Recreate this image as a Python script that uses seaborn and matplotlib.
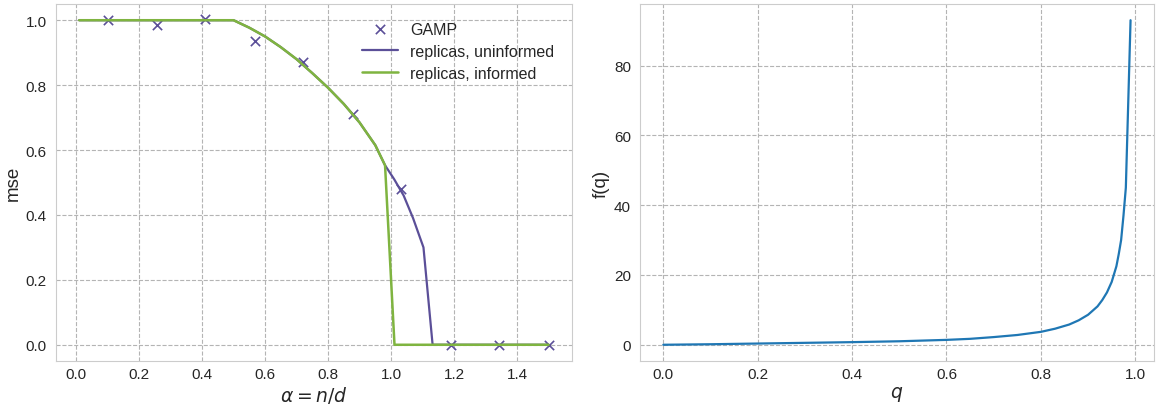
import matplotlib
matplotlib.use("Agg")
import matplotlib.pyplot as plt
import seaborn as sns

# Data: left panel (mse vs alpha)
gamp_alpha = [0.1, 0.256, 0.411, 0.567, 0.722, 0.878, 1.033, 1.189, 1.344, 1.5]
gamp_mse = [1.0, 0.985, 1.003, 0.935, 0.872, 0.712, 0.48, 0.0, 0.0, 0.0]

unif_alpha = [0.01, 0.5, 0.55, 0.6, 0.65, 0.7, 0.75, 0.8, 0.85, 0.9, 0.95, 0.981,
              1.01, 1.04, 1.07, 1.103, 1.132, 1.5]
unif_mse = [1.0, 1.0, 0.977, 0.95, 0.917, 0.88, 0.837, 0.792, 0.742, 0.685, 0.615, 0.553,
            0.51, 0.46, 0.39, 0.30, 0.0, 0.0]

inf_alpha = [0.01, 0.5, 0.55, 0.6, 0.65, 0.7, 0.75, 0.8, 0.85, 0.9, 0.95, 0.981,
             1.011, 1.5]
inf_mse = [1.0, 1.0, 0.977, 0.95, 0.917, 0.88, 0.837, 0.792, 0.742, 0.685, 0.615, 0.553,
           0.0, 0.0]

# Data: right panel f(q)
q_vals = [0.0, 0.1, 0.2, 0.3, 0.4, 0.5, 0.6, 0.65, 0.7, 0.75, 0.8, 0.83, 0.86, 0.88,
          0.9, 0.92, 0.93, 0.94, 0.95, 0.96, 0.965, 0.97, 0.975, 0.98, 0.99]
f_vals = [0.0, 0.15, 0.35, 0.55, 0.75, 1.0, 1.4, 1.7, 2.2, 2.8, 3.7, 4.6, 5.8, 7.0,
          8.6, 11.0, 12.8, 15.0, 18.0, 22.5, 26.0, 30.0, 37.0, 45.0, 93.0]

PURPLE = "#5b4f98"
GREEN = "#7fb440"
BLUE = "#1f77b4"

sns.set_style("whitegrid", rc={
    "grid.linestyle": "--",
    "grid.color": "#b4b4b4",
    "axes.edgecolor": "#cccccc",
    "axes.linewidth": 1.5,
    "text.color": "#262626",
    "xtick.color": "#262626",
    "ytick.color": "#262626",
})
plt.rcParams["font.family"] = ["Liberation Sans", "DejaVu Sans"]
plt.rcParams["mathtext.fontset"] = "dejavusans"

fig = plt.figure(figsize=(11.56, 4.06), dpi=100)
ax1 = fig.add_axes([0.0482, 0.1084, 0.4466, 0.8793])
ax2 = fig.add_axes([0.5536, 0.1084, 0.4446, 0.8793])

sns.scatterplot(x=gamp_alpha, y=gamp_mse, marker="x", color=PURPLE, s=45,
                linewidth=1.2, label="GAMP", ax=ax1)
sns.lineplot(x=unif_alpha, y=unif_mse, sort=False, color=PURPLE, linewidth=1.6,
             label="replicas, uninformed", ax=ax1)
sns.lineplot(x=inf_alpha, y=inf_mse, sort=False, color=GREEN, linewidth=1.8,
             label="replicas, informed", ax=ax1)

ax1.set_xlim(-0.0645, 1.5745)
ax1.set_ylim(-0.05, 1.05)
ax1.set_xticks([0.0, 0.2, 0.4, 0.6, 0.8, 1.0, 1.2, 1.4])
ax1.set_yticks([0.0, 0.2, 0.4, 0.6, 0.8, 1.0])
ax1.set_xlabel(r"$\alpha = n/d$", fontsize=13.5, labelpad=2)
ax1.set_ylabel("mse", fontsize=13.5, labelpad=3)
ax1.tick_params(axis="x", labelsize=11, pad=1)
ax1.tick_params(axis="y", labelsize=11, pad=3)
ax1.legend(loc="upper right", frameon=False, fontsize=11.5, borderaxespad=0.7,
           labelspacing=0.45, handlelength=2.2)

sns.lineplot(x=q_vals, y=f_vals, sort=False, color=BLUE, linewidth=1.6, ax=ax2)
ax2.set_xlim(-0.0495, 1.0395)
ax2.set_ylim(-4.65, 97.65)
ax2.set_xticks([0.0, 0.2, 0.4, 0.6, 0.8, 1.0])
ax2.set_yticks([0, 20, 40, 60, 80])
ax2.set_xlabel(r"$q$", fontsize=13.5, labelpad=2)
ax2.set_ylabel("f(q)", fontsize=13.5, labelpad=3)
ax2.tick_params(axis="x", labelsize=11, pad=1)
ax2.tick_params(axis="y", labelsize=11, pad=3)

fig.savefig("out.png", dpi=100)
